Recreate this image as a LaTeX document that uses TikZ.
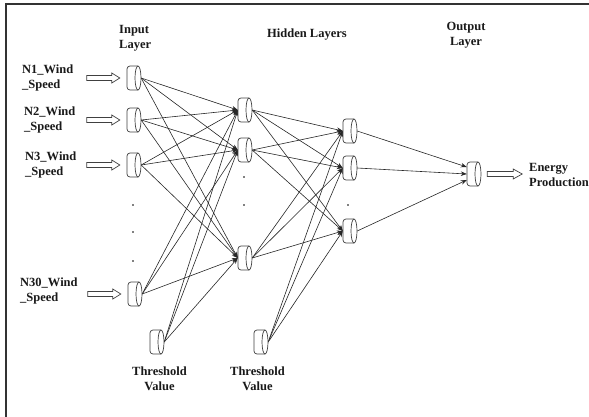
\documentclass[tikz,border=0pt]{standalone}
\usepackage{fontspec}
\setmainfont{Liberation Serif}
\usetikzlibrary{arrows.meta,calc}
\begin{document}
\begin{tikzpicture}[x=1pt,y=-1pt,
  neuron/.style={rectangle, minimum width=14pt, minimum height=24pt, inner sep=0pt},
  neuronline/.style={draw=black!75, line width=0.7pt, fill=white},
  conn/.style={draw=black!85, line width=0.6pt, -{Stealth[length=6pt,width=4.5pt]}},
  lbl/.style={font=\fontsize{12.5}{15}\selectfont\bfseries, inner sep=0pt, text=black!90},
  bigarrow/.style={draw=black!75, line width=0.7pt, fill=white},
  dotm/.style={fill=black},
  frameline/.style={draw=black!80, line width=1.3pt},
]
\useasboundingbox (0,0) rectangle (589,416);
\draw[frameline] (6,420) -- (6,4) -- (595,4);

% neurons (named anchors)
\node[neuron] (i1) at (134,78) {};
\node[neuron] (i2) at (134,120) {};
\node[neuron] (i3) at (134,165) {};
\node[neuron] (i4) at (135,294) {};
\node[neuron] (t1) at (157,342) {};
\node[neuron] (h1) at (245,110) {};
\node[neuron] (h2) at (245,150) {};
\node[neuron] (h3) at (245,258) {};
\node[neuron] (t2) at (261,342) {};
\node[neuron] (g1) at (350,131) {};
\node[neuron] (g2) at (350,168) {};
\node[neuron] (g3) at (350,231) {};
\node[neuron] (o) at (474,174) {};

% connectors
\foreach \s in {i1,i2,i3,i4,t1}
  \foreach \t in {h1,h2,h3}
    \draw[conn] (\s.east) -- (\t.west);
\foreach \s in {h1,h2,h3,t2}
  \foreach \t in {g1,g2,g3}
    \draw[conn] (\s.east) -- (\t.west);
\draw[conn] (g1.east) -- ($(o.west)+(0,-7)$);
\draw[conn] (g2.east) -- (o.west);
\draw[conn] (g3.east) -- ($(o.west)+(0,6)$);

% neuron outlines
\foreach \n in {i1,i2,i3,i4,t1,h1,h2,h3,t2,g1,g2,g3,o} {
  \draw[neuronline, rounded corners=3pt] ($(\n)+(4,-12)$) -- ($(\n)+(-7,-12)$) -- ($(\n)+(-7,12)$) -- ($(\n)+(4,12)$);
  \draw[neuronline] ($(\n)+(4,0)$) ellipse[x radius=3, y radius=12];
}

% hollow input arrows
\foreach \n in {i1,i2,i3,i4}
  \draw[bigarrow] ($(\n.west)+(-40,-2.5)$) -- ++(25,0) -- ++(0,-2.5) -- ++(8,5) -- ++(-8,5) -- ++(0,-2.5) -- ++(-25,0) -- cycle;
\draw[bigarrow] ($(o.east)+(6,-2.5)$) -- ++(26,0) -- ++(0,-2.5) -- ++(9,5) -- ++(-9,5) -- ++(0,-2.5) -- ++(-26,0) -- cycle;

% dots
\foreach \y in {205,232,261} \fill[dotm] (133,\y) circle[radius=0.9];
\foreach \y in {177,205} \fill[dotm] (244,\y) circle[radius=0.9];
\fill[dotm] (348,205) circle[radius=0.9];

% labels
\node[lbl, align=left, anchor=west] (l1) at (22,77.5) {N1\_Wind\\\_Speed};
\node[lbl, align=left, anchor=west] (l2) at (24,119.5) {N2\_Wind\\\_Speed};
\node[lbl, align=left, anchor=west] (l3) at (25,164.5) {N3\_Wind\\\_Speed};
\node[lbl, align=left, anchor=west] (l4) at (20,291) {N30\_Wind\\\_Speed};
\node[lbl, align=left, anchor=west] (tin) at (119,38.5) {Input\\Layer};
\node[lbl] (thid) at (307,35) {Hidden Layers};
\node[lbl, align=center] (tout) at (466,35.5) {Output\\Layer};
\node[lbl, align=left, anchor=west] (lout) at (529,174.5) {Energy\\Production};
\node[lbl, align=center] (th1) at (159.5,378.5) {Threshold\\Value};
\node[lbl, align=center] (th2) at (257.5,378.5) {Threshold\\Value};
\end{tikzpicture}
\end{document}
